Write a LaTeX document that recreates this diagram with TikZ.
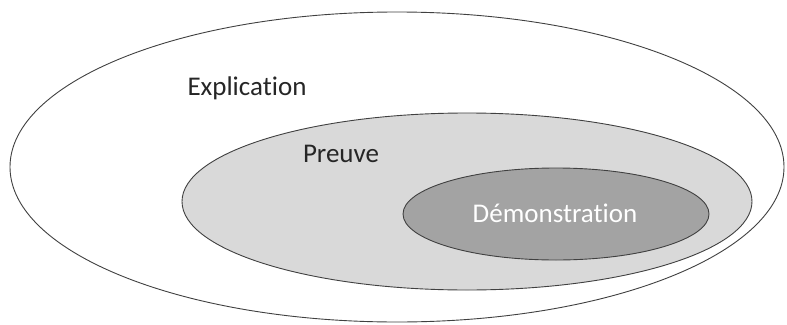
\documentclass[tikz,border=0pt]{standalone}
\usepackage{fontspec}
\setmainfont[Ligatures=NoCommon]{Carlito}
\usetikzlibrary{shapes.geometric}
\definecolor{edge}{HTML}{404040}
\definecolor{midfill}{HTML}{D9D9D9}
\definecolor{infill}{HTML}{A3A3A3}
\tikzset{
  set/.style={ellipse, draw=edge, line width=0.9pt, inner sep=0pt},
  lbl/.style={font=\fontsize{27}{31}\selectfont, inner sep=0pt}
}
\begin{document}
\begin{tikzpicture}[x=1pt,y=-1pt]
\useasboundingbox (0,0) rectangle (787,324);
\node[set, fill=white, minimum width=774pt, minimum height=310pt] (outer) at (397,167) {};
\node[set, fill=midfill, minimum width=570pt, minimum height=177pt] (mid) at (467,201.5) {};
\node[set, fill=infill, minimum width=306pt, minimum height=92pt] (inner) at (556,214) {};
\node[lbl, text=black!85] (expl) at (247,88) {Explication};
\node[lbl, text=black!85] (preuve) at (341,154) {Preuve};
\node[lbl, text=white] (demo) at (555,213) {Démonstration};
\end{tikzpicture}
\end{document}
